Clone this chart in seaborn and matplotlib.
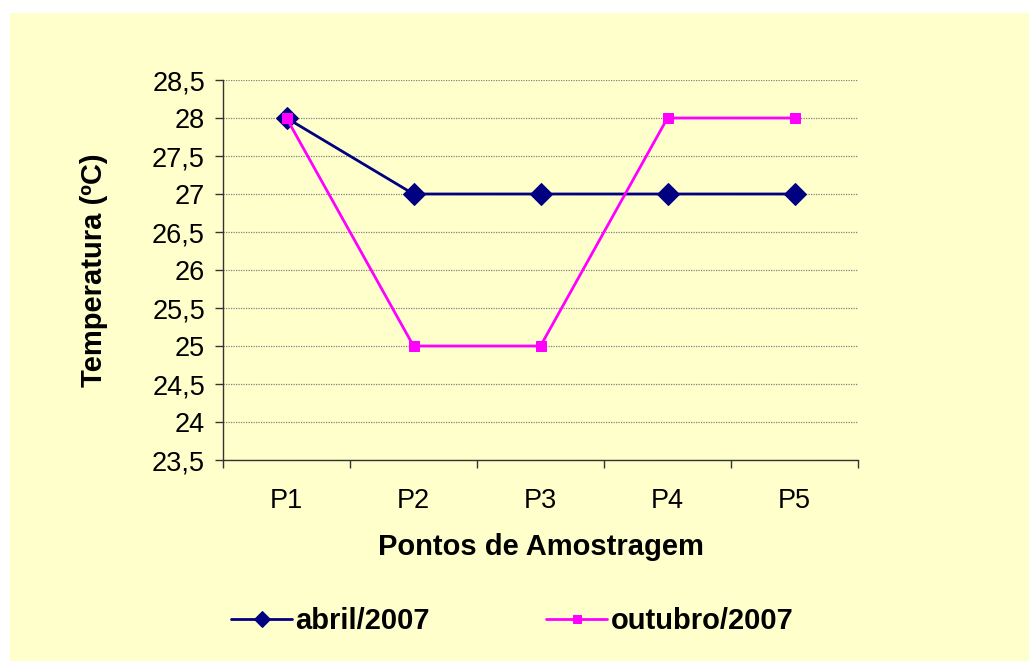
import matplotlib
matplotlib.use("Agg")
import pandas as pd
import seaborn as sns
import matplotlib.pyplot as plt
from matplotlib.patches import Rectangle
from matplotlib.ticker import FuncFormatter, FixedLocator

# data
pontos = ["P1", "P2", "P3", "P4", "P5"]
abril_2007 = [28, 27, 27, 27, 27]
outubro_2007 = [28, 25, 25, 28, 28]
y_ticks = [23.5, 24, 24.5, 25, 25.5, 26, 26.5, 27, 27.5, 28, 28.5]

sns.set_style("white")
plt.rcParams["font.family"] = ["Liberation Sans", "DejaVu Sans"]
plt.rcParams["text.color"] = "black"
plt.rcParams["axes.labelcolor"] = "black"
plt.rcParams["xtick.color"] = "black"
plt.rcParams["ytick.color"] = "black"

bg = "#FFFFCC"
fig = plt.figure(figsize=(10.29, 6.61), dpi=100, facecolor="white")
# yellow chart area (leaves a thin white margin on the left and top)
fig.patches.append(Rectangle((10 / 1029, 0), 1 - 10 / 1029, 1 - 13 / 661,
                             transform=fig.transFigure, facecolor=bg,
                             edgecolor="none", zorder=-10))

ax = fig.add_axes([223 / 1029, 1 - 460 / 661, 635 / 1029, 380 / 661])
ax.set_facecolor(bg)

df = pd.DataFrame({"ponto": list(range(len(pontos))),
                   "abril": abril_2007, "outubro": outubro_2007})

sns.lineplot(data=df, x="ponto", y="abril", ax=ax, color="#000080",
             linewidth=2, marker="D", markersize=11, markeredgecolor="#000080",
             label="abril/2007", zorder=3)
sns.lineplot(data=df, x="ponto", y="outubro", ax=ax, color="#FF00FF",
             linewidth=2, marker="s", markersize=7, markeredgecolor="#FF00FF",
             label="outubro/2007", zorder=4)

ax.set_xlim(-0.5, len(pontos) - 0.5)
ax.set_ylim(23.5, 28.5)

# y axis: ticks with decimal comma
ax.yaxis.set_major_locator(FixedLocator(y_ticks))
ax.yaxis.set_major_formatter(FuncFormatter(lambda v, p: f"{v:g}".replace(".", ",")))
ax.grid(axis="y", color="#808080", linestyle=(0, (1, 1)), linewidth=0.9)
ax.grid(axis="x", visible=False)

# x axis: tick marks at category boundaries, labels centered
ax.set_xticks([i - 0.5 for i in range(len(pontos) + 1)])
ax.set_xticklabels([])
ax.set_xticks(list(range(len(pontos))), minor=True)
ax.set_xticklabels(pontos, minor=True)
ax.tick_params(axis="x", which="major", direction="out", length=6, width=1,
               color="#333333", bottom=True)
ax.tick_params(axis="x", which="minor", length=0, pad=20, labelsize=19.5)
ax.tick_params(axis="y", direction="out", length=6, width=1, color="#333333",
               left=True, labelsize=19.5, pad=7)

for side in ["top", "right"]:
    ax.spines[side].set_visible(False)
for side in ["left", "bottom"]:
    ax.spines[side].set_color("#333333")
    ax.spines[side].set_linewidth(1)

ax.set_xlabel("Pontos de Amostragem", fontsize=21, fontweight="bold", labelpad=14)
ax.set_ylabel("Temperatura (ºC)", fontsize=21, fontweight="bold", labelpad=32)

ax.legend_.remove()
handles, labels = ax.get_legend_handles_labels()
leg = fig.legend(handles, labels, loc="center", bbox_to_anchor=(512 / 1029, 1 - 621 / 661),
                 ncol=2, frameon=False, prop={"size": 21, "weight": "bold"},
                 handlelength=2.1, columnspacing=4, handletextpad=0.1)
# legend markers are smaller than the plotted ones
leg.legend_handles[0].set_markersize(8)
leg.legend_handles[1].set_markersize(5.5)

fig.savefig("out.png", dpi=100, facecolor="white")
